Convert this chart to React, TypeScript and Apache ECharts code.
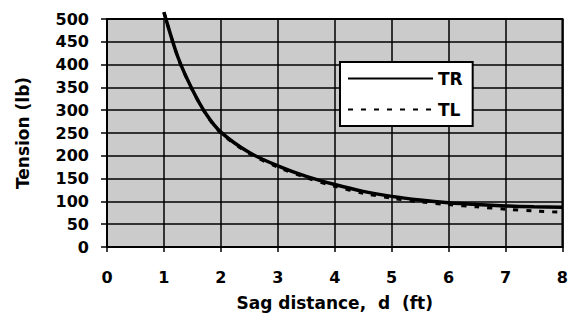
import React, { useEffect, useRef } from "react";
import * as echarts from "echarts";

const sagDistance = [1, 1.25, 1.5, 1.75, 2, 2.5, 3, 3.5, 4, 4.5, 5, 5.5, 6, 6.5, 7, 7.5, 8];
const tensionTR = [515, 415, 345, 290, 252, 207, 178, 155, 137, 122, 111, 103, 97, 93, 90, 88, 87];
const tensionTL = [515, 414, 344, 289, 250, 205, 175, 152, 133, 118, 107, 99, 93, 88, 83, 79, 76];
const seriesNames = ["TR", "TL"];
const xTitle = "Sag distance,  d  (ft)";
const yTitle = "Tension (lb)";

const FONT = "DejaVu Sans";

export default function App() {
  const ref = useRef<HTMLDivElement>(null);
  useEffect(() => {
    document.body.style.margin = "0";
    const chart = echarts.init(ref.current!, null, { renderer: "svg" });
    const trData = sagDistance.map((d, i) => [d, tensionTR[i]]);
    const tlData = sagDistance.map((d, i) => [d, tensionTL[i]]);
    chart.setOption({
      animation: false,
      backgroundColor: "#ffffff",
      grid: {
        left: 107,
        right: 8,
        top: 19,
        bottom: 81,
        show: true,
        backgroundColor: "#cbcbcb",
        borderColor: "#000",
        borderWidth: 2,
      },
      legend: {
        data: seriesNames,
        orient: "vertical",
        left: 340,
        top: 62,
        padding: [8, 10, 8, 7],
        itemGap: 14,
        itemWidth: 85,
        itemHeight: 18,
        backgroundColor: "#ffffff",
        borderColor: "#000",
        borderWidth: 2,
        itemStyle: { opacity: 0 },
        textStyle: { fontFamily: FONT, fontWeight: "bold", fontSize: 17, color: "#000" },
      },
      xAxis: {
        type: "value",
        min: 0,
        max: 8,
        interval: 1,
        name: xTitle,
        nameLocation: "middle",
        nameGap: 47,
        nameTextStyle: { fontFamily: FONT, fontWeight: "bold", fontSize: 17, color: "#000" },
        axisLine: { show: true, lineStyle: { color: "#000", width: 2 } },
        axisTick: { show: true, length: 5, lineStyle: { color: "#000", width: 1.5 } },
        axisLabel: { margin: 22, fontFamily: FONT, fontWeight: "bold", fontSize: 16, color: "#000" },
        splitLine: { show: true, lineStyle: { color: "#000", width: 1.5 } },
      },
      yAxis: {
        type: "value",
        min: 0,
        max: 500,
        interval: 50,
        name: yTitle,
        nameLocation: "middle",
        nameGap: 76,
        nameTextStyle: { fontFamily: FONT, fontWeight: "bold", fontSize: 17, color: "#000" },
        axisLine: { show: true, lineStyle: { color: "#000", width: 2 } },
        axisTick: { show: true, length: 6, lineStyle: { color: "#000", width: 1.5 } },
        axisLabel: { margin: 18, fontFamily: FONT, fontWeight: "bold", fontSize: 16, color: "#000" },
        splitLine: { show: true, lineStyle: { color: "#000", width: 1.5 } },
      },
      series: [
        {
          name: seriesNames[0],
          type: "line",
          data: trData,
          smooth: 0.3,
          symbol: "none",
          showSymbol: false,
          clip: false,
          z: 3,
          lineStyle: { color: "#000", width: 3.5, type: "solid" },
          itemStyle: { color: "#000" },
        },
        {
          name: seriesNames[1],
          type: "line",
          data: tlData,
          smooth: 0.3,
          symbol: "none",
          showSymbol: false,
          clip: false,
          z: 2,
          lineStyle: { color: "#000", width: 3, type: [5, 8] },
          itemStyle: { color: "#000" },
        },
      ],
    });
    return () => chart.dispose();
  }, []);
  return <div ref={ref} style={{ width: 571, height: 328 }} />;
}
